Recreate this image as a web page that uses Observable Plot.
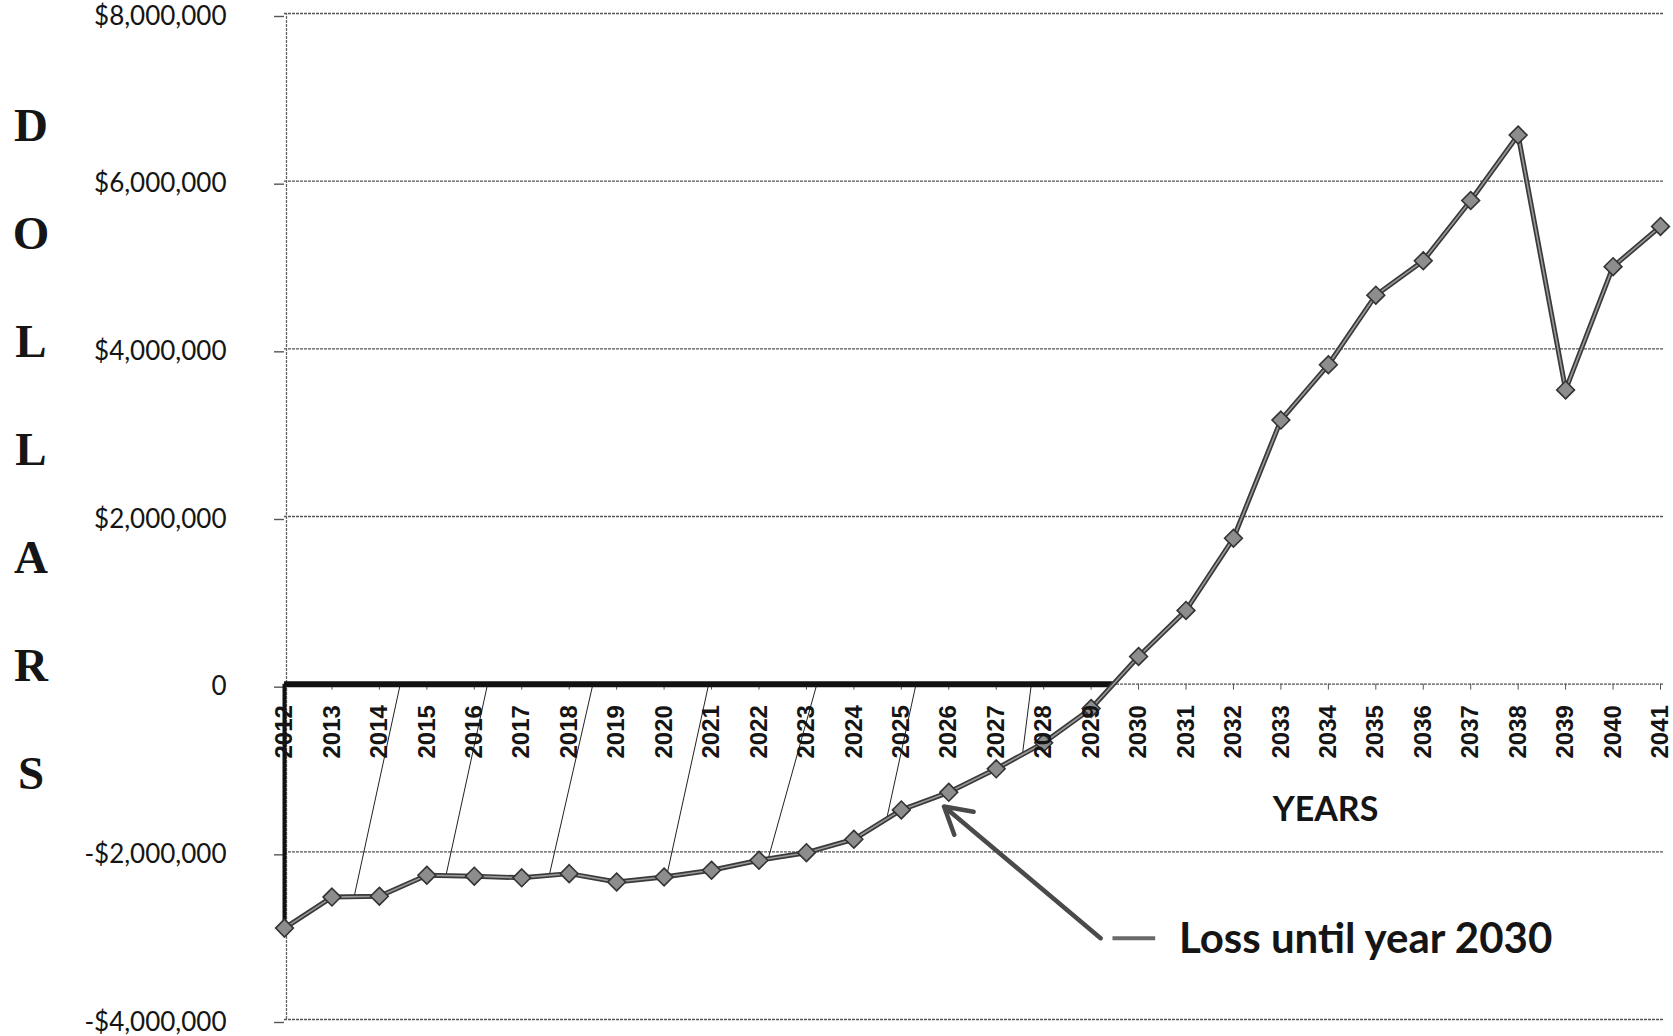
<!DOCTYPE html>
<html>
<head>
<meta charset="utf-8">
<script src="https://cdn.jsdelivr.net/npm/d3@7"></script>
<script src="https://cdn.jsdelivr.net/npm/@observablehq/plot@0.6"></script>
<style>
  html, body { margin: 0; padding: 0; background: #fff; }
  #wrap { position: relative; width: 1673px; height: 1036px; overflow: hidden; }
  #ylabel { position: absolute; left: 8px; top: 71px; width: 46px; text-align: center;
    font-family: "Liberation Serif", "DejaVu Serif", serif; font-weight: bold; font-size: 47px;
    line-height: 108px; color: #151515; }
  #ylabel span { display: block; }
</style>
</head>
<body>
<div id="wrap">
  <div id="ylabel"></div>
</div>
<script>
// ---- data ----
const years = [2012, 2013, 2014, 2015, 2016, 2017, 2018, 2019, 2020, 2021,
               2022, 2023, 2024, 2025, 2026, 2027, 2028, 2029, 2030, 2031,
               2032, 2033, 2034, 2035, 2036, 2037, 2038, 2039, 2040, 2041];
const dollars = [-2910000, -2540000, -2530000, -2280000, -2290000, -2310000, -2260000, -2360000, -2300000, -2220000,
                 -2100000, -2010000, -1850000, -1500000, -1290000, -1010000, -700000, -290000, 330000, 880000,
                 1740000, 3150000, 3810000, 4640000, 5050000, 5770000, 6550000, 3510000, 4980000, 5460000];
const yTicks = [-4000000, -2000000, 0, 2000000, 4000000, 6000000, 8000000];
const yAxisTitle = "DOLLARS";
const xAxisTitle = "YEARS";
const noteText = "Loss until year 2030";
// thin slanted leader strokes seen in the scan (from the zero line down to the series)
const leaderTopYear = [2014.44, 2016.28, 2018.50, 2020.94, 2023.22, 2025.31, 2027.74];
const leaderBottomYear = [2013.47, 2015.40, 2017.58, 2020.05, 2022.20, 2024.69, 2027.55];
const leaderBottomValue = [-2530000, -2290000, -2280000, -2300000, -2070000, -1610000, -850000];

// ---- derived tables ----
const data = years.map((year, i) => ({year, value: dollars[i]}));
const leaders = leaderTopYear.map((t, i) => ({x1: t, y1: 0, x2: leaderBottomYear[i], y2: leaderBottomValue[i]}));
// year where the series crosses zero (end of the loss period)
let crossYear = years[years.length - 1];
for (let i = 1; i < data.length; i++) {
  if (data[i - 1].value < 0 && data[i].value >= 0) {
    const a = data[i - 1], b = data[i];
    crossYear = a.year + (-a.value) / (b.value - a.value);
    break;
  }
}
const note = {x1: 2029.2, y1: -3030000, x2: 2025.9, y2: -1460000,
              dashFrom: 2029.45, dashTo: 2030.35, textX: 2030.85, textY: -3050000};
const yearsTitlePos = {x: 2033.94, y: -1500000};

const fmt = d3.format(",");
const moneyFormat = d => d === 0 ? "0" : (d < 0 ? "-" : "") + "$" + fmt(Math.abs(d));

const chart = Plot.plot({
  width: 1673,
  height: 1036,
  marginLeft: 284,
  marginRight: 13,
  marginTop: 13,
  marginBottom: 17,
  x: {domain: [2012, 2041], axis: null},
  y: {domain: [-4000000, 8000000]},
  style: {background: "white", color: "#151515", fontFamily: "Lato, 'Open Sans', sans-serif"},
  marks: [
    Plot.gridY(yTicks, {stroke: "#555", strokeOpacity: 1, strokeWidth: 1.4, strokeDasharray: "3,1", insetRight: -4}),
    Plot.axisY(yTicks, {tickSize: 10, tickPadding: 48, tickFormat: moneyFormat, fontSize: 26,
                        stroke: "#555", strokeWidth: 1.4, dy: 3}),
    Plot.ruleX([2012], {y1: -4000000, y2: 8000000, stroke: "#666", strokeWidth: 1.3, strokeDasharray: "3,1", dx: 2}),
    // small year ticks on the zero line
    Plot.ruleX(years, {x: d => d, y1: 0, y2: 0, insetBottom: -6, stroke: "#555", strokeWidth: 1}),
    Plot.link(leaders, {x1: "x1", y1: "y1", x2: "x2", y2: "y2", stroke: "#222", strokeWidth: 1}),
    // highlighted loss period
    Plot.ruleY([0], {x1: 2012, x2: crossYear, stroke: "#111", strokeWidth: 6}),
    Plot.ruleX([2012], {y1: 0, y2: dollars[0], stroke: "#111", strokeWidth: 4}),
    // series
    Plot.line(data, {x: "year", y: "value", stroke: "#3a3a3a", strokeWidth: 5}),
    Plot.line(data, {x: "year", y: "value", stroke: "#9a9a9a", strokeWidth: 1.6}),
    Plot.dot(data, {x: "year", y: "value", symbol: "diamond2", r: 8, fill: "#8d8d8d", stroke: "#333", strokeWidth: 1.6}),
    // year labels along the zero line
    Plot.text(years, {x: d => d, y: 0, text: d => String(d), rotate: -90, textAnchor: "end", dy: 21,
                      fontSize: 24, fontWeight: "bold", fontFamily: "'Liberation Sans', Arial, sans-serif", fill: "#151515"}),
    Plot.text([xAxisTitle], {x: yearsTitlePos.x, y: yearsTitlePos.y, text: d => d, fontSize: 34,
                             fontWeight: "bold", fill: "#151515"}),
    // annotation
    Plot.arrow([note], {x1: "x1", y1: "y1", x2: "x2", y2: "y2", stroke: "#4a4a4a", strokeWidth: 4.5, headLength: 10, bend: 0}),
    Plot.link([note], {x1: "dashFrom", x2: "dashTo", y1: "y1", y2: "y1", stroke: "#6a6a6a", strokeWidth: 4}),
    Plot.text([noteText], {x: note.textX, y: note.textY, text: d => d, textAnchor: "start", fontSize: 42,
                           fontWeight: "bold", fill: "#151515"})
  ]
});
document.getElementById("wrap").prepend(chart);
chart.style.display = "block";
const yl = document.getElementById("ylabel");
for (const ch of yAxisTitle) {
  const s = document.createElement("span");
  s.textContent = ch;
  yl.appendChild(s);
}
</script>
</body>
</html>
